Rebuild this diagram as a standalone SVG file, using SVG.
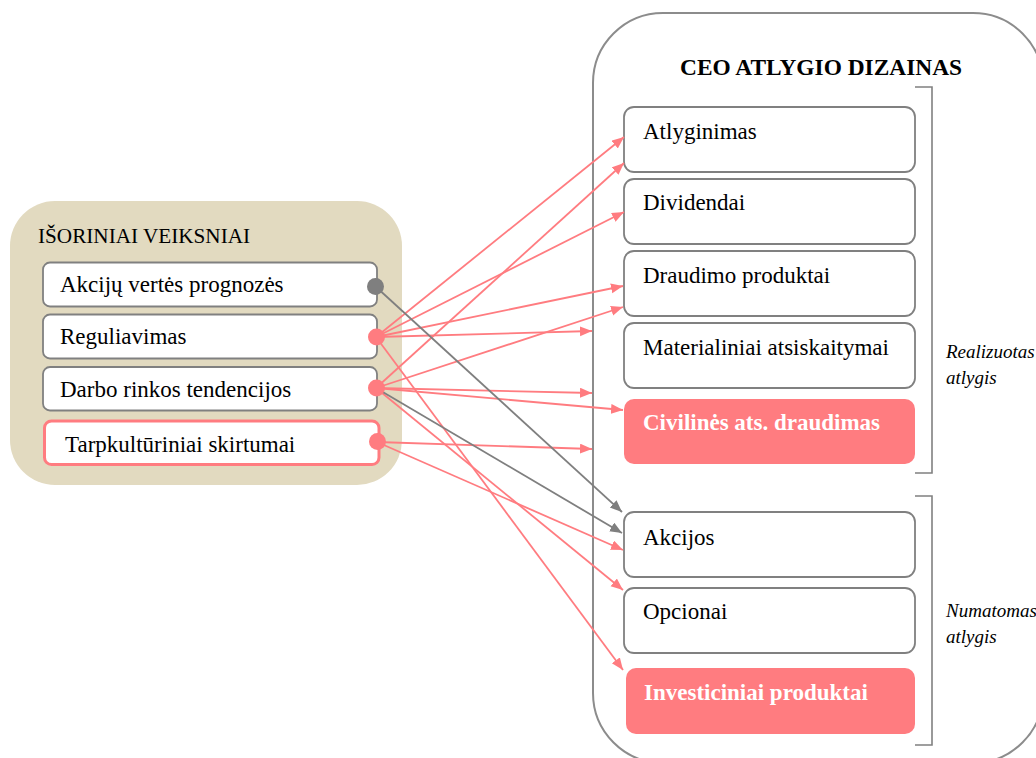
<svg xmlns="http://www.w3.org/2000/svg" width="1036" height="758" viewBox="0 0 1036 758" font-family="'Liberation Serif','Times New Roman',serif">
<style>
text{font-family:"Liberation Serif","Times New Roman",serif;fill:#000}
.t{font-size:23px}
.b{font-size:23px;font-weight:bold;fill:#fff}
.h{font-size:23.4px;font-weight:bold}
.it{font-size:19px;font-style:italic}
.lb{fill:#fff;stroke:#808080;stroke-width:1.8}
.rb{fill:#fff;stroke:#808080;stroke-width:1.8}
.rf{fill:#FF7C80}
.cr{fill:none;stroke:#FF7C80;stroke-width:1.8}
.cg{fill:none;stroke:#7F7F7F;stroke-width:1.8}
.br{fill:none;stroke:#808080;stroke-width:1.6}
</style>
<defs>
<marker id="ar" markerUnits="userSpaceOnUse" markerWidth="13" markerHeight="11" refX="12" refY="5" orient="auto"><path d="M0,0 L12,5 L0,10 z" fill="#FF7C80"/></marker>
<marker id="ag" markerUnits="userSpaceOnUse" markerWidth="13" markerHeight="11" refX="12" refY="5" orient="auto"><path d="M0,0 L12,5 L0,10 z" fill="#7F7F7F"/></marker>
</defs>
<rect width="1036" height="758" fill="#fff"/>
<g id="ceo-container">
<rect x="593" y="13" width="450" height="750" rx="70" fill="none" stroke="#8C8C8C" stroke-width="2"/>
<text class="h" x="680" y="75">CEO ATLYGIO DIZAINAS</text>
</g>
<g id="external-factors">
<rect x="10" y="201" width="392" height="284" rx="45" fill="#E2DAC0"/>
<text x="38" y="243" style="font-size:21.2px">IŠORINIAI VEIKSNIAI</text>
</g>
<g id="n-akciju"><rect class="lb" x="43" y="262.5" width="334" height="44" rx="7"/><text class="t" x="60" y="292">Akcijų vertės prognozės</text></g>
<g id="n-reguliavimas"><rect class="lb" x="43" y="314.5" width="334" height="44" rx="7"/><text class="t" x="60" y="344">Reguliavimas</text></g>
<g id="n-darbo"><rect class="lb" x="43" y="367" width="334" height="43.5" rx="7"/><text class="t" x="60" y="397">Darbo rinkos tendencijos</text></g>
<g id="n-tarpkult"><rect x="44.5" y="421" width="334.5" height="43.5" rx="7" fill="#fff" stroke="#FF7C80" stroke-width="3"/><text class="t" x="65" y="452">Tarpkultūriniai skirtumai</text></g>
<g id="n-atlyginimas"><rect class="rb" x="624" y="107" width="291" height="65" rx="10"/><text class="t" x="643" y="139">Atlyginimas</text></g>
<g id="n-dividendai"><rect class="rb" x="624" y="179" width="291" height="65" rx="10"/><text class="t" x="643" y="210">Dividendai</text></g>
<g id="n-draudimo"><rect class="rb" x="624" y="251" width="291" height="65" rx="10"/><text class="t" x="643" y="283">Draudimo produktai</text></g>
<g id="n-materialiniai"><rect class="rb" x="624" y="323" width="291" height="65" rx="10"/><text class="t" x="643" y="355">Materialiniai atsiskaitymai</text></g>
<g id="n-civilines"><rect class="rf" x="624" y="399" width="291" height="65" rx="10"/><text class="b" x="643" y="430">Civilinės ats. draudimas</text></g>
<g id="n-akcijos"><rect class="rb" x="624" y="512" width="291" height="65" rx="10"/><text class="t" x="643" y="545">Akcijos</text></g>
<g id="n-opcionai"><rect class="rb" x="624" y="588" width="291" height="65" rx="10"/><text class="t" x="643" y="619">Opcionai</text></g>
<g id="n-investiciniai"><rect class="rf" x="626" y="668" width="289" height="66" rx="10"/><text class="b" x="644" y="700">Investiciniai produktai</text></g>
<g id="brackets">
<path class="br" d="M915,87 H932 V473 H915"/>
<path class="br" d="M915,496 H932 V745 H915"/>
<text class="it" x="946" y="358">Realizuotas</text>
<text class="it" x="946" y="384">atlygis</text>
<text class="it" x="946" y="617">Numatomas</text>
<text class="it" x="946" y="643">atlygis</text>
</g>
<g id="connectors">
<path class="cr" marker-end="url(#ar)" d="M376,337 L624,137"/>
<path class="cr" marker-end="url(#ar)" d="M376,337 L624,212"/>
<path class="cr" marker-end="url(#ar)" d="M376,337 L623,286"/>
<path class="cr" marker-end="url(#ar)" d="M376,337 L592,331"/>
<path class="cr" marker-end="url(#ar)" d="M376,337 L623,670"/>
<path class="cr" marker-end="url(#ar)" d="M376,388 L624,163"/>
<path class="cr" marker-end="url(#ar)" d="M376,388 L623,307"/>
<path class="cr" marker-end="url(#ar)" d="M376,388 L592,393"/>
<path class="cr" marker-end="url(#ar)" d="M376,388 L623,410"/>
<path class="cr" marker-end="url(#ar)" d="M376,388 L623,590"/>
<path class="cr" marker-end="url(#ar)" d="M377,442 L592,449"/>
<path class="cr" marker-end="url(#ar)" d="M377,442 L623,550"/>
<path class="cg" marker-end="url(#ag)" d="M375,286 L622,512"/>
<path class="cg" marker-end="url(#ag)" d="M376,388 L622,533"/>
</g>
<g id="dots">
<circle cx="375.5" cy="286.5" r="8.5" fill="#7F7F7F"/>
<circle cx="376.5" cy="337" r="8.5" fill="#FF7C80"/>
<circle cx="376.5" cy="388" r="8.5" fill="#FF7C80"/>
<circle cx="377.5" cy="441.5" r="8.5" fill="#FF7C80"/>
</g>
</svg>
